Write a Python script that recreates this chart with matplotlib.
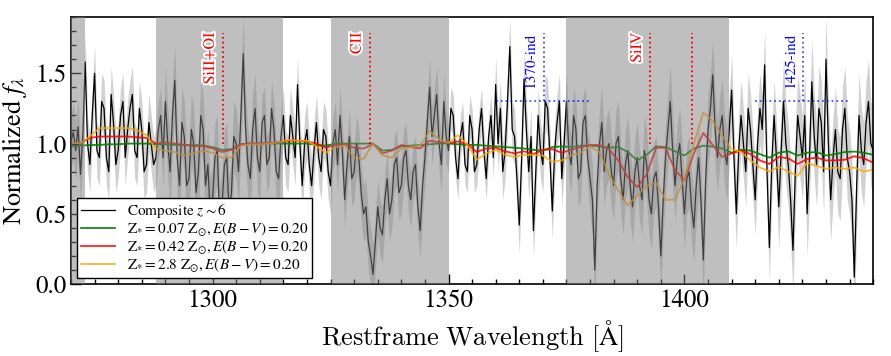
import matplotlib
matplotlib.use('Agg')
import matplotlib.pyplot as plt
import matplotlib.patheffects as pe
from matplotlib.ticker import MultipleLocator
import numpy as np

# police type Times + maths stix
plt.rcParams['font.family'] = 'STIXGeneral'
plt.rcParams['mathtext.fontset'] = 'stix'

# spectre composite z~6, une valeur tous les 0.5 A (1270 -> 1440)
wave = np.arange(1270, 1440.01, 0.5)
flux = [1.02, 1.08, 0.95, 1.12, 0.78, 1.05, 1.58, 1.00, 0.85, 1.20, 1.50, 0.95, 0.90, 1.30, 1.25, 0.90, 0.80, 1.35, 1.15, 0.85,  # 1270
        0.95, 1.20, 1.30, 0.90, 1.10, 1.25, 1.35, 0.95, 0.90, 1.25, 1.10, 0.80, 0.85, 1.15, 1.00, 0.85, 0.90, 1.10, 1.20, 0.90,  # 1280
        1.30, 1.00, 0.80, 1.20, 1.45, 0.90, 0.70, 1.15, 1.05, 0.70, 0.75, 1.10, 1.00, 0.65, 0.80, 1.20, 1.10, 0.70, 0.85, 0.50,  # 1290
        0.60, 0.90, 0.95, 0.45, 0.55, 0.85, 0.90, 0.50, 0.65, 1.05, 1.00, 0.80, 1.20, 1.64, 1.10, 0.85, 0.75, 1.10, 1.25, 0.90,  # 1300
        0.80, 1.15, 1.20, 0.85, 0.90, 1.25, 1.10, 0.80, 0.75, 1.05, 1.20, 0.90, 0.85, 1.20, 1.05, 0.90, 1.42, 1.00, 0.70, 1.00,  # 1310
        1.10, 0.85, 0.70, 0.95, 1.15, 0.90, 0.80, 1.10, 1.05, 0.80, 0.70, 1.00, 1.10, 0.85, 1.20, 0.95, 0.60, 0.85, 1.05, 0.75,  # 1320
        0.80, 1.00, 0.90, 0.65, 0.50, 0.55, 0.30, 0.20, 0.07, 0.30, 0.55, 0.40, 0.35, 0.60, 0.75, 0.50, 0.60, 0.85, 0.90, 0.65,  # 1330
        0.70, 0.90, 0.95, 0.70, 0.60, 0.80, 0.85, 0.55, 0.38, 0.70, 0.90, 1.15, 1.40, 1.05, 1.20, 1.35, 1.00, 0.85, 1.30, 1.05,  # 1340
        0.95, 1.25, 1.20, 0.90, 0.75, 1.05, 1.15, 0.85, 0.80, 1.20, 1.10, 0.80, 0.85, 1.10, 1.25, 0.95, 0.75, 1.05, 1.20, 0.90,  # 1350
        1.42, 1.00, 1.25, 0.80, 0.95, 1.30, 1.69, 1.10, 1.05, 0.75, 0.42, 0.90, 1.46, 1.10, 0.80, 1.05, 0.38, 0.80, 1.20, 0.95,  # 1360
        0.85, 1.30, 1.25, 0.90, 0.52, 0.95, 1.15, 1.30, 0.75, 1.00, 1.30, 0.95, 0.85, 1.20, 1.10, 0.75, 0.80, 1.15, 1.20, 0.90,  # 1370
        0.75, 0.60, 0.10, 0.70, 1.00, 1.15, 0.80, 0.95, 1.00, 0.80, 0.70, 1.00, 1.05, 0.75, 0.60, 0.85, 0.95, 0.70, 0.55, 0.80,  # 1380
        0.90, 0.70, 0.60, 0.95, 0.85, 0.60, 0.50, 0.75, 0.80, 0.55, 0.20, 0.60, 0.90, 1.10, 1.30, 0.95, 0.70, 0.90, 1.00, 0.75,  # 1390
        0.50, 0.75, 0.80, 0.55, 0.40, 0.70, 0.90, 0.60, 0.17, 0.75, 1.10, 1.25, 1.49, 1.10, 0.90, 1.10, 1.20, 0.95, 0.85, 1.10,  # 1400
        1.38, 0.90, 0.50, 0.95, 1.20, 1.00, 0.80, 1.25, 1.10, 0.85, 0.60, 1.00, 1.25, 1.10, 1.56, 0.80, 0.26, 0.85, 1.20, 0.90,  # 1410
        0.55, 0.95, 1.30, 1.00, 0.85, 0.60, 0.24, 0.80, 1.20, 1.05, 0.90, 1.20, 0.50, 0.90, 1.44, 1.05, 0.85, 1.25, 1.15, 0.80,  # 1420
        1.60, 1.00, 0.60, 0.90, 1.10, 0.80, 0.75, 1.10, 1.25, 0.90, 0.80, 0.60, 0.05, 0.70, 1.20, 0.95, 0.85, 1.15, 1.30, 1.00,  # 1430
        0.95]
flux = np.array(flux)

# erreur par tranche de 10 A
err_blocs = [0.20, 0.20, 0.25, 0.25, 0.20, 0.20, 0.20, 0.20, 0.15,
             0.20, 0.20, 0.25, 0.25, 0.25, 0.25, 0.30, 0.30]
err = np.repeat(err_blocs, 20)
err = np.append(err, err[-1])

# modeles, une valeur tous les 2 A
mwave = np.arange(1270, 1441, 2)
mod_007 = [0.98, 0.985, 0.99, 0.99, 0.995, 0.995, 1.00, 1.00, 1.00, 0.995,
           0.995, 0.99, 0.99, 0.99, 0.985, 0.975, 0.955, 0.96, 0.995, 1.00,
           1.00, 1.00, 1.00, 1.00, 1.00, 1.00, 0.99, 0.985, 1.00, 1.00,
           1.00, 1.00, 1.00, 0.95, 0.955, 0.98, 0.985, 0.99, 0.995, 1.00,
           1.00, 0.995, 0.99, 0.99, 0.985, 0.98, 0.975, 0.97, 0.965, 0.955,
           0.95, 0.975, 0.98, 0.975, 0.985, 0.985, 0.98, 0.97, 0.975, 0.94,
           0.88, 0.92, 0.98, 0.975, 0.945, 0.915, 0.965, 0.985, 0.978, 0.965,
           0.935, 0.955, 0.95, 0.925, 0.90, 0.935, 0.945, 0.915, 0.935, 0.94,
           0.915, 0.925, 0.94, 0.943, 0.935, 0.92]
mod_042 = [1.01, 1.00, 1.04, 1.05, 1.05, 1.05, 1.05, 1.045, 1.04, 1.00,
           1.01, 1.00, 0.99, 0.98, 0.985, 0.965, 0.94, 0.955, 0.995, 1.00,
           1.00, 1.005, 1.01, 1.02, 1.02, 1.015, 1.00, 0.97, 0.99, 0.995,
           0.97, 0.965, 0.995, 0.93, 0.95, 0.99, 0.975, 0.965, 1.02, 1.01,
           1.005, 1.015, 0.995, 0.94, 0.965, 0.97, 0.945, 0.93, 0.945, 0.925,
           0.955, 0.96, 0.935, 0.955, 0.975, 0.99, 0.99, 0.96, 0.88, 0.76,
           0.69, 0.78, 0.97, 0.97, 0.81, 0.74, 0.93, 1.075, 0.99, 0.905,
           0.93, 0.95, 0.925, 0.88, 0.855, 0.905, 0.895, 0.855, 0.89, 0.90,
           0.88, 0.88, 0.885, 0.91, 0.895, 0.865]
mod_28 = [1.01, 1.00, 1.05, 1.11, 1.11, 1.11, 1.11, 1.095, 1.06, 0.96,
          0.95, 0.94, 0.915, 0.93, 0.95, 0.935, 0.90, 0.90, 0.985, 0.995,
          0.995, 1.00, 1.01, 1.025, 1.02, 1.02, 0.98, 0.935, 0.975, 0.985,
          0.90, 0.89, 1.00, 0.915, 0.90, 0.965, 0.975, 0.985, 1.09, 1.03,
          1.005, 1.06, 0.99, 0.885, 0.93, 0.955, 0.92, 0.905, 0.92, 0.92,
          0.915, 0.87, 0.88, 0.915, 0.935, 0.98, 0.94, 0.78, 0.665, 0.56,
          0.63, 0.70, 0.72, 0.60, 0.60, 0.75, 1.00, 1.22, 1.16, 1.055,
          0.96, 0.94, 0.88, 0.83, 0.80, 0.835, 0.80, 0.77, 0.865, 0.84,
          0.82, 0.83, 0.82, 0.83, 0.80, 0.815]

# zones grisees (masquees)
zones = [(1270, 1273), (1288, 1315), (1325, 1350), (1375, 1409.4)]

# raies
raies_x = [1302.2, 1333.3, 1392.7, 1401.7]
raies_nom = ['SiII+OI', 'CII', 'SiIV', '']
# indices 1370 et 1425
ind_x = [1370.2, 1425.1]
ind_nom = ['1370-ind', '1425-ind']
ind_bornes = [(1360, 1380), (1415, 1435)]


fig, ax = plt.subplots(figsize=(8.91, 3.56), dpi=100)
fig.subplots_adjust(left=0.0797, right=0.980, bottom=0.202, top=0.952)

ax.fill_between(wave, flux - err, flux + err, color='0.82', lw=0, zorder=1)
ax.plot(wave, flux, color='k', lw=0.9, zorder=2, label=r'Composite $z\sim6$')
ax.plot(mwave, mod_007, color='green', lw=1.3, alpha=0.9, zorder=2,
        label=r'$\mathrm{Z}_{*}=0.07\ \mathrm{Z}_{\odot}, E(B-V)=0.20$')
ax.plot(mwave, mod_042, color='red', lw=1.3, alpha=0.85, zorder=2,
        label=r'$\mathrm{Z}_{*}=0.42\ \mathrm{Z}_{\odot}, E(B-V)=0.20$')
ax.plot(mwave, mod_28, color='orange', lw=1.3, alpha=0.8, zorder=2,
        label=r'$\mathrm{Z}_{*}=2.8\ \mathrm{Z}_{\odot}, E(B-V)=0.20$')

for lo, hi in zones:
    ax.axvspan(lo, hi, color='0.5', alpha=0.5, lw=0, zorder=3)

contour = [pe.withStroke(linewidth=3, foreground='white')]
for x, nom in zip(raies_x, raies_nom):
    ax.plot([x, x], [1.0, 1.79], ls=':', color='red', lw=1.3, zorder=4)
    if nom:
        ax.text(x - 2.7, 1.79, nom, rotation=90, ha='center', va='top',
                color='red', fontsize=11.5, zorder=5, path_effects=contour)

for x, nom, (lo, hi) in zip(ind_x, ind_nom, ind_bornes):
    ax.plot([x, x], [1.3, 1.79], ls=':', color='blue', lw=1.3, alpha=0.7, zorder=4)
    ax.plot([lo, hi], [1.3, 1.3], ls=':', color='blue', lw=1.3, alpha=0.7, zorder=4)
    ax.text(x - 2.7, 1.79, nom, rotation=90, ha='center', va='top',
            color='blue', fontsize=11, zorder=5)

ax.set_xlim(1270, 1440)
ax.set_ylim(0, 1.9)
ax.xaxis.set_major_locator(MultipleLocator(50))
ax.xaxis.set_minor_locator(MultipleLocator(5))
ax.yaxis.set_major_locator(MultipleLocator(0.5))
ax.yaxis.set_minor_locator(MultipleLocator(0.1))
ax.tick_params(which='both', direction='in', top=False, right=False, labelsize=18)
ax.tick_params(which='major', length=7, width=1)
ax.tick_params(which='minor', length=3.5, width=1)
for s in ax.spines.values():
    s.set_linewidth(1.2)

ax.set_xlabel(r'$\mathrm{Restframe\ Wavelength\ [\AA]}$', fontsize=19,
              math_fontfamily='cm')
ax.set_ylabel(r'Normalized $f_{\lambda}$', fontsize=19)

leg = ax.legend(loc='lower left', fontsize=11, fancybox=False, edgecolor='k',
                framealpha=1, labelspacing=0.0, handlelength=2.2,
                borderaxespad=0.4, borderpad=0.25)
leg.get_frame().set_linewidth(1.0)
leg.set_zorder(10)

fig.savefig('out.png', dpi=100)
